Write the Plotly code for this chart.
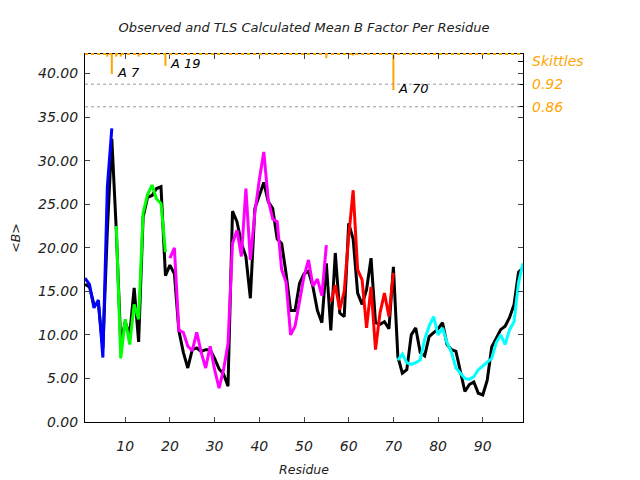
import plotly.graph_objects as go

residues = list(range(1, 100))

observed = [
    15.8, 15.5, 13.5, 13.5, 8.5, 22.0, 32.5, 22.0, 9.0, 11.5,
    10.0, 15.4, 9.2, 23.5, 25.8, 26.0, 26.8, 27.0, 16.8, 18.0,
    17.0, 10.5, 8.0, 6.2, 8.3, 8.5, 8.1, 8.3, 8.3, 7.3,
    6.1, 5.5, 4.1, 24.2, 23.0, 20.5, 19.0, 14.2, 24.5, 26.0,
    27.5, 25.3, 24.5, 21.0, 20.5, 17.0, 12.8, 12.8, 15.9, 17.0,
    17.3, 15.5, 12.8, 11.4, 18.2, 10.5, 19.4, 12.5, 12.1, 22.8,
    21.0, 14.8, 13.5, 15.2, 18.8, 11.4, 11.2, 11.5, 10.7, 17.8,
    7.5, 5.6, 6.0, 10.0, 10.8, 8.0, 7.6, 9.8, 10.2, 10.7,
    11.4, 8.9, 8.3, 8.1, 5.8, 3.5, 4.3, 4.6, 3.3, 3.1,
    4.8, 8.6, 9.6, 10.6, 11.0, 12.0, 13.5, 17.2, 17.7,
]

tls_segments = [
    ("#0000ff", 1, [16.5, 15.8, 13.1, 14.0, 7.4, 27.0, 33.7]),
    ("#00ff00", 8, [22.5, 7.3, 11.8, 8.9, 13.5, 11.8, 24.0, 26.1, 27.2, 25.6,
                    25.1, 19.5]),
    ("#ff00ff", 20, [18.8, 20.0, 10.5, 10.3, 8.7, 8.2, 10.3, 8.0, 6.2, 8.7,
                     6.0, 3.9, 6.0, 9.0, 20.5, 22.0, 19.0, 26.8, 18.6, 24.0,
                     27.8, 31.0, 25.5, 23.3, 23.0, 17.5, 16.0, 10.0, 11.0, 14.0,
                     16.7, 18.6, 15.6, 16.4, 14.5, 20.3]),
    ("#ff0000", 56, [13.8, 15.7, 12.9, 15.0, 21.3, 26.6, 17.5, 16.3, 10.8, 15.5,
                     8.3, 12.5, 14.8, 12.1, 17.1]),
    ("#00ffff", 71, [7.1, 7.8, 6.8, 6.6, 6.8, 7.1, 9.5, 11.0, 12.1, 10.0,
                     10.8, 9.1, 8.0, 6.2, 5.6, 5.0, 4.9, 5.2, 6.0, 6.4,
                     6.8, 7.3, 9.1, 10.0, 8.9, 10.6, 11.5, 16.0, 18.2]),
]

skittle_res = [6, 7, 8, 9, 13, 19, 55, 61, 70]
skittle_val = [0.993, 0.9466, 0.993, 0.993, 0.993, 0.9686, 0.989, 0.996, 0.9042]
skittle_labels = {7: "A 7", 19: "A 19", 70: "A 70"}
skittle_base = 1.0

y_ticks = [0, 5, 10, 15, 20, 25, 30, 35, 40]
x_ticks = [10, 20, 30, 40, 50, 60, 70, 80, 90]
y2_ticks = [0.86, 0.92, 0.98]
y2_text = ["0.86", "0.92", "Skittles"]

ORANGE = "#ffa500"
FONT = "DejaVu Sans"

fig = go.Figure()

fig.add_trace(go.Scatter(x=residues, y=observed, mode="lines",
                         line=dict(color="black", width=3), showlegend=False))
for color, start, vals in tls_segments:
    xs = list(range(start, start + len(vals)))
    fig.add_trace(go.Scatter(x=xs, y=vals, mode="lines",
                             line=dict(color=color, width=3), showlegend=False))

sx, sy = [], []
for r, v in zip(skittle_res, skittle_val):
    sx += [r, r, None]
    sy += [skittle_base, v, None]
fig.add_trace(go.Scatter(x=sx, y=sy, mode="lines", yaxis="y2",
                         line=dict(color=ORANGE, width=2), showlegend=False))

for r, v in zip(skittle_res, skittle_val):
    if r in skittle_labels:
        fig.add_annotation(x=r, y=v, xref="x", yref="y2", text=skittle_labels[r],
                           showarrow=False, xanchor="left", yanchor="middle",
                           xshift=3, yshift=2,
                           font=dict(family=FONT, size=13, color="black", style="italic"))

for v in [0.92, 0.86]:
    fig.add_shape(type="line", xref="paper", x0=0, x1=1, yref="y2", y0=v, y1=v,
                  line=dict(color="#999999", width=1, dash="dot"))
fig.add_shape(type="line", xref="paper", x0=0, x1=1, yref="paper", y0=1, y1=1,
              line=dict(color=ORANGE, width=2, dash="dot"))

fig.update_layout(
    width=640, height=480,
    margin=dict(l=85, r=117, t=54, b=58, autoexpand=False),
    paper_bgcolor="white", plot_bgcolor="white",
    hovermode=False,
    font=dict(family=FONT, size=13, color="#222222", style="italic"),
    title=dict(text="Observed and TLS Calculated Mean B Factor Per Residue",
               x=0.5, xref="paper", xanchor="center", y=0.943, yanchor="middle",
               font=dict(family=FONT, size=13, color="#222222", style="italic")),
    xaxis=dict(range=[1, 99], tickvals=x_ticks, ticks="inside", ticklen=5,
               showline=True, linecolor="black", linewidth=1, mirror="ticks",
               showgrid=False, zeroline=False, ticklabelstandoff=11,
               automargin=False,
               title=dict(text="Residue", standoff=12,
                          font=dict(family=FONT, size=12.5, style="italic")),
               tickfont=dict(family=FONT, size=14, style="italic")),
    yaxis=dict(range=[0, 42.24], tickvals=y_ticks, tickformat=".2f",
               ticks="inside", ticklen=5,
               showline=True, linecolor="black", linewidth=1, mirror="ticks",
               showgrid=False, zeroline=False, ticklabelstandoff=3,
               automargin=False,
               title=dict(text="&lt;B&gt;", standoff=14,
                          font=dict(family=FONT, size=12.5, style="italic")),
               tickfont=dict(family=FONT, size=14, style="italic")),
    yaxis2=dict(overlaying="y", side="right", range=[0.0245, 1.0],
                tickvals=y2_ticks, ticktext=y2_text, ticks="inside", ticklen=5,
                tickcolor="black", showline=False, showgrid=False, zeroline=False,
                ticklabelstandoff=8, automargin=False,
                tickfont=dict(family=FONT, size=14, color=ORANGE, style="italic")),
)

fig.write_html("out.html", config={"displayModeBar": False},
               post_script="document.body.style.margin='0';")
